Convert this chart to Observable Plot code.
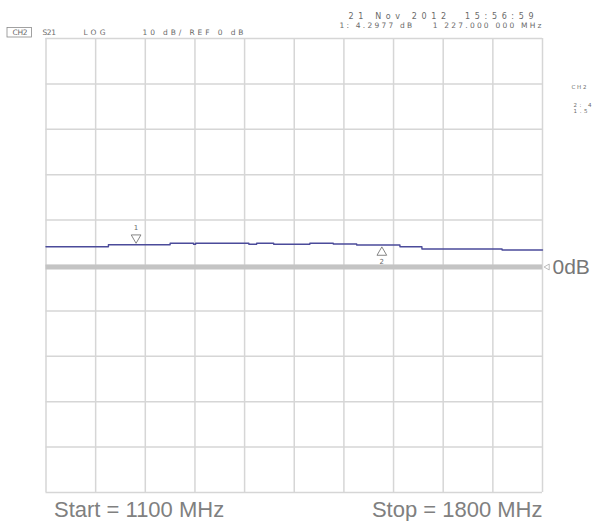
<!DOCTYPE html>
<html>
<head>
<meta charset="utf-8">
<script src="https://cdn.jsdelivr.net/npm/d3@7"></script>
<script src="https://cdn.jsdelivr.net/npm/@observablehq/plot@0.6"></script>
<style>
  html, body { margin: 0; padding: 0; background: #fff; }
  svg { display: block; }
</style>
</head>
<body>
<div id="chart"></div>
<script>
const freqMHz = [1100, 1188, 1275, 1308, 1311, 1386, 1397, 1421, 1472, 1505, 1538, 1599, 1630, 1743, 1800];
const s21dB   = [4.14, 4.58, 4.89, 4.67, 4.89, 4.67, 4.89, 4.67, 4.89, 4.74, 4.52, 4.14, 3.63, 3.41, 3.41];

// Markers
const markerFreq = [1227, 1573.5];
const markerDB   = [4.58, 4.52];
const markerName = ["1", "2"];

// Grid
const xTicks = d3.range(1100, 1801, 70);
const yTicks = d3.range(-50, 51, 10);

// Header / annotation texts
const headerChannel = "CH2";
const headerParam = "S21";
const headerFormat = "LOG";
const headerScale = "10 dB/ REF 0 dB";
const headerDate = "21 Nov 2012  15:56:59";
const headerReadout = "1: 4.2977 dB    1 227.000 000 MHz";
const sideTexts = ["CH2", "2: 4", "1.5"];
const startLabel = "Start = 1100 MHz";
const stopLabel = "Stop = 1800 MHz";
const refLabel = "0dB";

const trace = freqMHz.map((f, i) => ({f, db: s21dB[i]}));
const markers = markerFreq.map((f, i) => ({f, db: markerDB[i], name: markerName[i]}));

const small = {fontFamily: "DejaVu Sans", fontSize: 7.5, fill: "#6a6a6a", lineAnchor: "middle"};

// a text fixed relative to the frame; fit = target width in px (letter spacing stretched)
const fits = new Map();
function label(str, anchor, dx, dy, textAnchor, opts = {}, fit) {
  if (fit) fits.set(str, fit);
  return Plot.text([str], {frameAnchor: anchor, text: d => d, dx, dy, textAnchor, ...small, ...opts});
}

// small box drawn around the header channel label
function channelBox(index, scales, values, dims) {
  const r = document.createElementNS("http://www.w3.org/2000/svg", "rect");
  r.setAttribute("x", dims.marginLeft - 38.5);
  r.setAttribute("y", dims.marginTop - 10.5);
  r.setAttribute("width", 24.5);
  r.setAttribute("height", 9.5);
  r.setAttribute("fill", "none");
  r.setAttribute("stroke", "#8a8a8a");
  r.setAttribute("stroke-width", 0.8);
  return r;
}

const plot = Plot.plot({
  width: 592,
  height: 521,
  marginLeft: 45.5,
  marginRight: 50,
  marginTop: 38,
  marginBottom: 29,
  style: {background: "#fff", overflow: "hidden"},
  x: {domain: [1100, 1800], axis: null},
  y: {domain: [-50, 50], axis: null},
  marks: [
    Plot.ruleX(xTicks, {stroke: "#d6d6d6", strokeWidth: 1.5}),
    Plot.ruleY(yTicks, {stroke: "#d6d6d6", strokeWidth: 1.5}),
    Plot.ruleY([0], {stroke: "#c4c4c4", strokeWidth: 5, dy: 1.5}),
    Plot.line(trace, {x: "f", y: "db", curve: "step-after", stroke: "#4b4b9a", strokeWidth: 1.4}),
    // marker 1: triangle pointing down above the trace
    Plot.dot(markers.slice(0, 1), {x: "f", y: "db", symbol: "triangle", rotate: 180, r: 3.6, dy: -7, stroke: "#777", fill: "#fff", strokeWidth: 0.9}),
    Plot.text(markers.slice(0, 1), {x: "f", y: "db", text: "name", dy: -17, ...small, fontSize: 7}),
    // marker 2: triangle pointing up below the trace
    Plot.dot(markers.slice(1), {x: "f", y: "db", symbol: "triangle", r: 3.6, dy: 7.5, stroke: "#777", fill: "#fff", strokeWidth: 0.9}),
    Plot.text(markers.slice(1), {x: "f", y: "db", text: "name", dy: 17, ...small, fontSize: 7}),
    // reference arrow and 0dB label
    Plot.dot([0], {x: () => 1800, y: d => d, symbol: "triangle", rotate: -90, r: 2.2, dx: 5, dy: 1.5, stroke: "#aaa", fill: "#fff", strokeWidth: 0.8}),
    Plot.text([refLabel], {x: () => 1800, y: () => 0, text: d => d, dx: 10, dy: 1.5, textAnchor: "start", lineAnchor: "middle", fontFamily: "Liberation Sans", fontSize: 21, fill: "#777"}),
    // header, left
    channelBox,
    label(headerChannel, "top-left", -26, -6, "middle"),
    label(headerParam, "top-left", -3.5, -6, "start", {}, 13.5),
    label(headerFormat, "top-left", 37.5, -6, "start", {}, 22),
    label(headerScale, "top-left", 96.5, -6, "start", {}, 101),
    // header, right
    label(headerDate, "top-right", -9, -22, "end", {fontSize: 8}, 185),
    label(headerReadout, "top-right", -1, -13, "end", {}, 202),
    // side panel (cut off by the window edge)
    label(sideTexts[0], "top-right", 29, 49, "start", {fontSize: 5.5}, 15),
    label(sideTexts[1], "top-right", 31, 66.5, "start", {fontSize: 5.5}, 18),
    label(sideTexts[2], "top-right", 31, 73, "start", {fontSize: 5.5}, 14),
    // start / stop
    Plot.text([startLabel], {frameAnchor: "bottom-left", text: d => d, dx: 8, dy: 17, textAnchor: "start", lineAnchor: "middle", fontFamily: "Liberation Sans", fontSize: 22, fill: "#808080"}),
    Plot.text([stopLabel], {frameAnchor: "bottom-right", text: d => d, dx: 0, dy: 17, textAnchor: "end", lineAnchor: "middle", fontFamily: "Liberation Sans", fontSize: 22, fill: "#808080"})
  ]
});

document.getElementById("chart").appendChild(plot);

// stretch the instrument texts to their on-screen widths
for (const t of plot.querySelectorAll("text")) {
  const w = fits.get(t.textContent);
  if (w) {
    t.setAttribute("textLength", w);
    t.setAttribute("lengthAdjust", "spacing");
  }
}
</script>
</body>
</html>
